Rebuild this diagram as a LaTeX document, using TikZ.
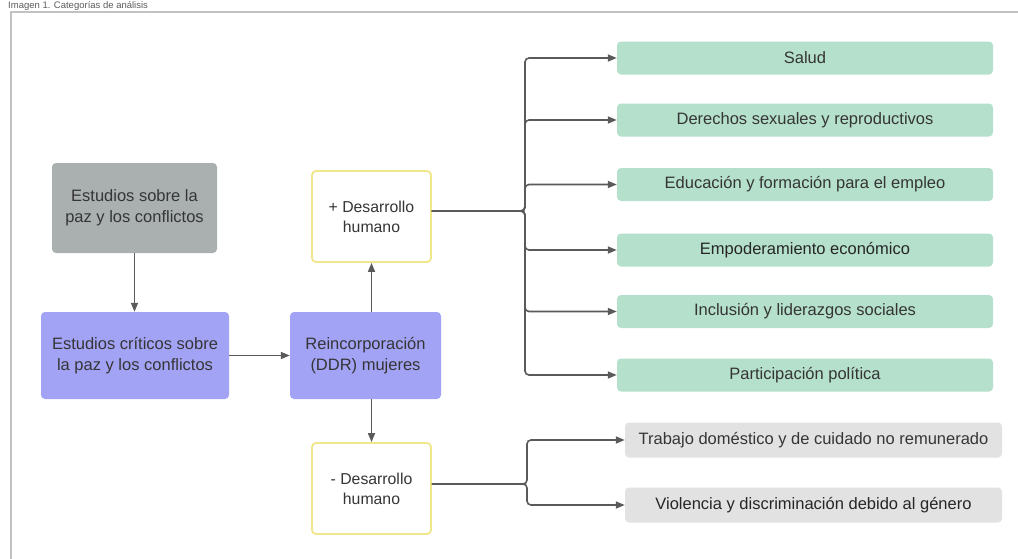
\documentclass[tikz,border=0pt]{standalone}
\usepackage{fontspec}
\setmainfont{Liberation Sans}
\usetikzlibrary{arrows.meta}
\definecolor{txt}{HTML}{353535}
\definecolor{grayfill}{HTML}{AAB0B0}
\definecolor{purp}{HTML}{A3A3F6}
\definecolor{greenf}{HTML}{B5E0CB}
\definecolor{lgray}{HTML}{E2E2E2}
\definecolor{ylw}{HTML}{F0E68A}
\definecolor{arrc}{HTML}{5A5A5A}
\definecolor{frame}{HTML}{C2C2C2}
\tikzset{
  box/.style={rectangle, rounded corners=4pt, align=center, text=txt, inner sep=0pt},
  bigbox/.style={box, font=\fontsize{16.5}{21}\selectfont},
  dhbox/.style={box, draw=ylw, line width=1.8pt, fill=white, minimum width=119pt, minimum height=91pt, font=\fontsize{15.8}{20}\selectfont},
  catbox/.style={box, fill=greenf, minimum width=376pt, minimum height=33pt, font=\fontsize{16.5}{20}\selectfont},
  negbox/.style={box, fill=lgray, minimum width=377pt, minimum height=35pt, font=\fontsize{16.5}{20}\selectfont},
  arr/.style={draw=arrc, line width=1.6pt, -{Triangle[length=9pt,width=7pt]}},
  trunk/.style={arr, rounded corners=4pt}
}
\begin{document}
\begin{tikzpicture}[x=1pt,y=-1pt]
\useasboundingbox (0,0) rectangle (1018,558);
\clip (0,0) rectangle (1018,558);
\fill[white] (0,0) rectangle (1018,558);
% caption and frame
\node[anchor=base west, inner sep=0pt, text=txt!80, font=\fontsize{9.5}{11}\selectfont] (cap) at (8,8) {Imagen 1. Categorías de análisis};
\draw[frame, line width=2pt] (10.5,560) -- (10.5,11.5) -- (1020,11.5);
% left nodes
\node[bigbox, fill=grayfill, minimum width=165pt, minimum height=90pt] (peace) at (134.5,208) {Estudios sobre la\\paz y los conflictos};
\node[bigbox, fill=purp, minimum width=188pt, minimum height=87pt] (crit) at (135,355.5) {Estudios críticos sobre\\la paz y los conflictos};
\node[bigbox, fill=purp, minimum width=151pt, minimum height=87pt] (reinc) at (365.5,355.5) {Reincorporación\\(DDR) mujeres};
\node[dhbox] (pdh) at (371.5,216.5) {+ Desarrollo\\humano};
\node[dhbox] (mdh) at (371.5,488.5) {- Desarrollo\\humano};
% categories
\node[catbox] (g1) at (805,58) {Salud};
\node[catbox] (g2) at (805,120) {Derechos sexuales y reproductivos};
\node[catbox] (g3) at (805,184.5) {Educación y formación para el empleo};
\node[catbox] (g4) at (805,250) {\color{black!85}Empoderamiento económico};
\node[catbox] (g5) at (805,311.5) {Inclusión y liderazgos sociales};
\node[catbox] (g6) at (805,375) {Participación política};
\node[negbox] (n1) at (813.5,440) {Trabajo doméstico y de cuidado no remunerado};
\node[negbox] (n2) at (813.5,505) {\color{black!85}Violencia y discriminación debido al género};
% connectors
\draw[arr] (peace.south -| 134.5,0) -- (crit.north -| 134.5,0);
\draw[arr] (crit.east) -- (reinc.west);
\draw[arr] (pdh.south |- reinc.north) -- (pdh.south);
\draw[arr] (mdh.north |- reinc.south) -- (mdh.north);
\coordinate (tp) at (525,211);
\coordinate (tm) at (527,484);
\foreach \g in {g1,g2,g3,g4,g5,g6}{
  \draw[trunk] (pdh.east |- tp) -- (tp) |- (\g.west);
}
\foreach \g in {n1,n2}{
  \draw[trunk] (mdh.east |- tm) -- (tm) |- (\g.west);
}
\end{tikzpicture}
\end{document}
